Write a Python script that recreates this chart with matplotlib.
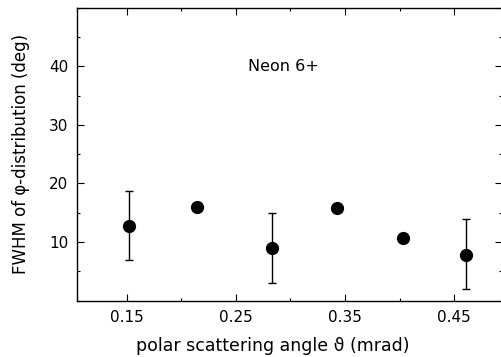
import matplotlib
matplotlib.use("Agg")
import matplotlib.pyplot as plt
from matplotlib.ticker import MultipleLocator

# data
angle = [0.152, 0.214, 0.283, 0.343, 0.403, 0.461]
fwhm = [12.8, 16.0, 8.9, 15.8, 10.7, 7.8]
err_lo = [5.9, 0, 5.9, 0, 0, 5.9]
err_hi = [5.9, 0, 6.0, 0, 0, 6.1]
xticks = [0.15, 0.25, 0.35, 0.45]
yticks = [10, 20, 30, 40]

plt.rcParams['font.family'] = ['DejaVu Sans']

fig = plt.figure(figsize=(5.02, 3.57), dpi=100)
ax = fig.add_axes([0.153, 0.158, 0.847, 0.820])

ax.errorbar(angle, fwhm, yerr=[err_lo, err_hi], fmt='o', color='black',
            ms=8.5, elinewidth=1.0, capsize=3, capthick=1.0)

ax.set_xlim(0.104, 0.494)
ax.set_ylim(0, 50)
ax.set_xticks(xticks)
ax.set_xticklabels([f"{t:.2f}" for t in xticks])
ax.set_yticks(yticks)
ax.xaxis.set_minor_locator(MultipleLocator(0.05))
ax.yaxis.set_minor_locator(MultipleLocator(5))
ax.tick_params(which='both', direction='in', top=True, right=True,
               labelsize=11)
ax.tick_params(axis='x', pad=7)
ax.tick_params(axis='y', pad=6)
ax.tick_params(which='major', length=5, width=0.8)
ax.tick_params(which='minor', length=2.5, width=0.8)

for s in ax.spines.values():
    s.set_linewidth(1.0)

ax.text(0.261, 40, "Neon 6+", fontsize=11.5, va='center', ha='left')

ax.set_ylabel("FWHM of φ-distribution (deg)", fontsize=12, labelpad=14)
ax.set_xlabel("polar scattering angle ϑ (mrad)", fontsize=12.5)
ax.xaxis.set_label_coords(0.46, -0.125)

fig.savefig("out.png", dpi=100)
